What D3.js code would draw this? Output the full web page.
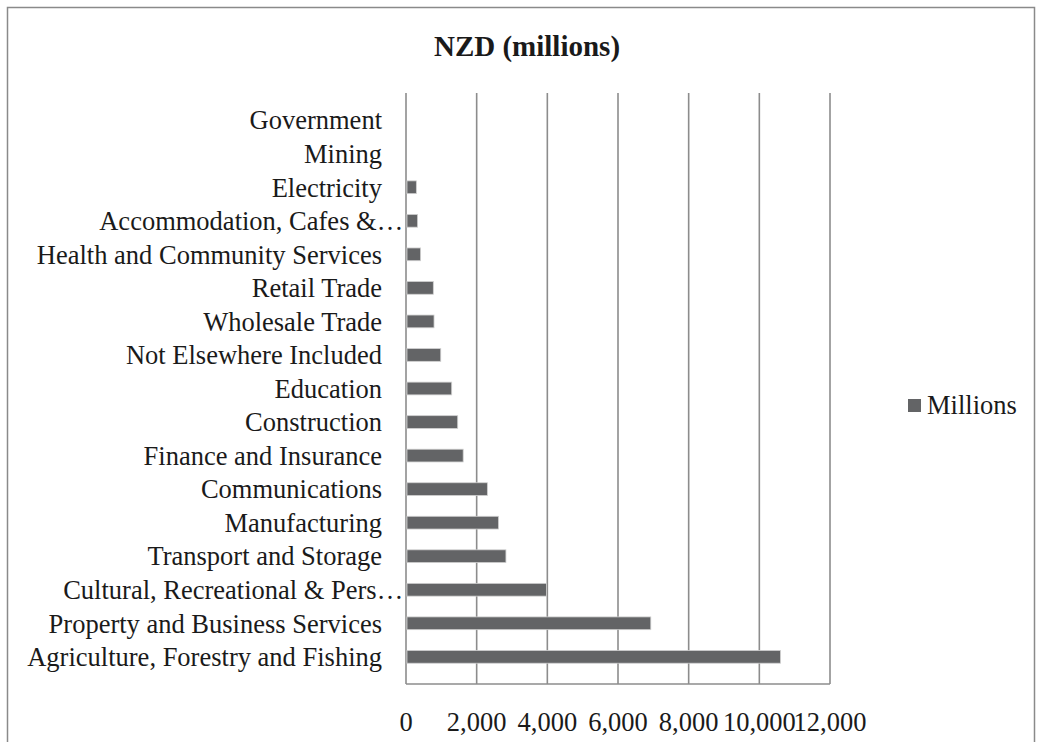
<!DOCTYPE html>
<html>
<head>
<meta charset="utf-8">
<script src="https://cdn.jsdelivr.net/npm/d3@7"></script>
<style>
  body { margin: 0; background: #fff; }
  svg { display: block; font-family: "Liberation Serif", "Times New Roman", serif; }
</style>
</head>
<body>
<svg width="1037" height="742"></svg>
<script>
// categories top to bottom, as the chart lists them
const categories = [
    'Government', 'Mining', 'Electricity', 'Accommodation, Cafes &\u2026',
    'Health and Community Services', 'Retail Trade', 'Wholesale Trade',
    'Not Elsewhere Included', 'Education', 'Construction', 'Finance and Insurance',
    'Communications', 'Manufacturing', 'Transport and Storage',
    'Cultural, Recreational & Pers\u2026', 'Property and Business Services',
    'Agriculture, Forestry and Fishing'
];
const millions = [0, 0, 265, 300, 385, 745, 765, 955, 1265, 1435, 1590,
    2275, 2590, 2800, 3950, 6900, 10570];
const xTicks = [0, 2000, 4000, 6000, 8000, 10000, 12000];
const seriesName = 'Millions';

const svg = d3.select('svg');
const margin = {left: 406, right: 207, top: 93, bottom: 58};
const width = 1037, height = 742;
const fontSize = 26.5;

// outer chart frame (cut off at right/bottom like the source)
svg.append('rect')
    .attr('x', 7.5).attr('y', 7.5)
    .attr('width', 1027).attr('height', 760)
    .attr('fill', 'none').attr('stroke', '#8a8a8a').attr('stroke-width', 1.5);

svg.append('text')
    .attr('x', 527).attr('y', 56)
    .attr('text-anchor', 'middle')
    .attr('font-size', 29).attr('font-weight', 'bold')
    .attr('fill', '#1a1a1a')
    .text('NZD (millions)');

const x = d3.scaleLinear()
    .domain([0, 12000])
    .range([margin.left, width - margin.right]);

const y = d3.scaleBand()
    .domain(categories)
    .range([margin.top, height - margin.bottom])
    .padding(0.62);

// gridlines
svg.append('g')
    .selectAll('line')
    .data(xTicks)
    .enter()
    .append('line')
    .attr('x1', d => x(d)).attr('x2', d => x(d))
    .attr('y1', margin.top).attr('y2', height - margin.bottom)
    .attr('stroke', '#8c8c8c')
    .attr('stroke-width', 1.6);

// bottom axis line
svg.append('line')
    .attr('x1', x(0)).attr('x2', x(12000))
    .attr('y1', height - margin.bottom).attr('y2', height - margin.bottom)
    .attr('stroke', '#8c8c8c').attr('stroke-width', 1.6);

// bars
svg.append('g')
    .selectAll('rect')
    .data(categories)
    .enter()
    .append('rect')
    .attr('x', x(0) + 1)
    .attr('y', d => y(d))
    .attr('width', (d, i) => Math.max(0, x(millions[i]) - x(0)))
    .attr('height', y.bandwidth())
    .attr('fill', '#636466')
    .attr('stroke', '#d0d0d0')
    .attr('stroke-width', 0.8);

// category labels
svg.append('g')
    .selectAll('text')
    .data(categories)
    .enter()
    .append('text')
    .attr('x', 382)
    .attr('dx', d => d.endsWith('\u2026') ? '0.8em' : 0)
    .attr('y', d => y(d) + y.bandwidth() / 2)
    .attr('dy', '0.35em')
    .attr('text-anchor', 'end')
    .attr('font-size', fontSize)
    .attr('fill', '#1a1a1a')
    .text(d => d);

// x tick labels
const fmt = d3.format(',');
svg.append('g')
    .selectAll('text')
    .data(xTicks)
    .enter()
    .append('text')
    .attr('x', d => x(d))
    .attr('y', 731)
    .attr('text-anchor', 'middle')
    .attr('font-size', fontSize)
    .attr('fill', '#1a1a1a')
    .text(d => fmt(d));

// legend
const legend = svg.append('g').attr('transform', 'translate(908,399)');
legend.append('rect')
    .attr('width', 13).attr('height', 13)
    .attr('fill', '#636466');
legend.append('text')
    .attr('x', 19).attr('y', 15)
    .attr('font-size', fontSize)
    .attr('fill', '#1a1a1a')
    .text(seriesName);
</script>
</body>
</html>
